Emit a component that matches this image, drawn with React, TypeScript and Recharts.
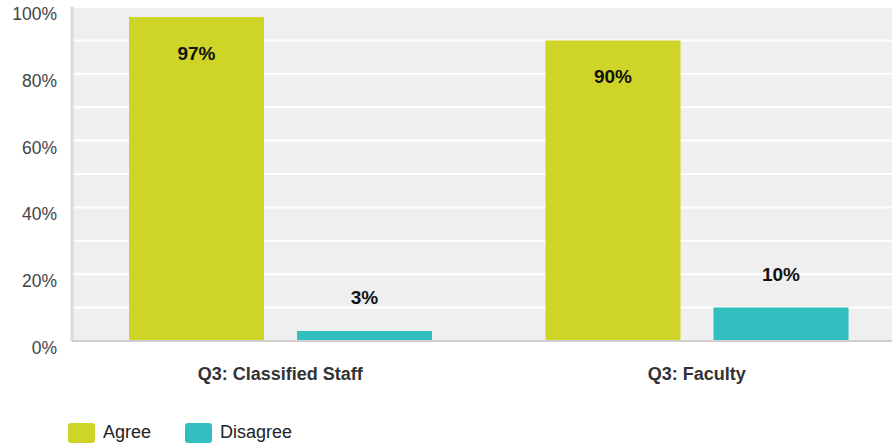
import { BarChart, Bar, XAxis, YAxis, CartesianGrid, LabelList } from 'recharts'

const categories = ['Q3: Classified Staff', 'Q3: Faculty']
const agree = [97, 90]
const disagree = [3, 10]
const yTicks = [0, 10, 20, 30, 40, 50, 60, 70, 80, 90, 100]

const SERIES = [
  { key: 'agree', name: 'Agree', color: '#cfd428' },
  { key: 'disagree', name: 'Disagree', color: '#33bec0' },
]

const data = categories.map((name, i) => ({ name, agree: agree[i], disagree: disagree[i] }))

const FONT = '"Liberation Sans", Arial, sans-serif'

function YTick(props: any) {
  const { y, payload } = props
  if (payload.value % 20 !== 0) return null
  return (
    <text x={57} y={y + 7} textAnchor="end" dominantBaseline="central" fontSize={17.5} fill="#444" fontFamily={FONT}>
      {payload.value}%
    </text>
  )
}

function XTick(props: any) {
  const { x, y, payload } = props
  return (
    <text x={x} y={y + 25} textAnchor="middle" dominantBaseline="central" fontSize={18} fontWeight="bold" fill="#333" fontFamily={FONT}>
      {payload.value}
    </text>
  )
}

// big bars get the label inside, small ones above
function makeLabel(inside: boolean) {
  return (props: any) => {
    const { x, y, width, value } = props
    const cy = inside ? y + 36 : y - 33
    return (
      <text x={x + width / 2} y={cy} textAnchor="middle" dominantBaseline="central" fontSize={19} fontWeight="bold" fill="#111" fontFamily={FONT}>
        {value}%
      </text>
    )
  }
}

export default function App() {
  return (
    <div style={{ position: 'fixed', left: 0, top: 0, width: 892, height: 446, overflow: 'hidden', background: '#fff' }}>
      <BarChart
        width={905}
        height={446}
        data={data}
        margin={{ top: 7, right: 0, bottom: 0, left: 0 }}
        barCategoryGap={57}
        barGap={33}
      >
        <CartesianGrid vertical={false} stroke="#fff" strokeWidth={2} fill="#efefef" />
        <YAxis
          width={72}
          domain={[0, 100]}
          ticks={yTicks}
          interval={0}
          tickLine={false}
          axisLine={{ stroke: '#dadada', strokeWidth: 3 }}
          tick={<YTick />}
        />
        <XAxis
          dataKey="name"
          height={105}
          tickLine={false}
          axisLine={{ stroke: '#cfcfcf', strokeWidth: 2 }}
          tick={<XTick />}
        />
        <Bar dataKey="agree" fill={SERIES[0].color} isAnimationActive={false}>
          <LabelList dataKey="agree" content={makeLabel(true)} />
        </Bar>
        <Bar dataKey="disagree" fill={SERIES[1].color} isAnimationActive={false}>
          <LabelList dataKey="disagree" content={makeLabel(false)} />
        </Bar>
      </BarChart>
      <div style={{ position: 'absolute', left: 68, top: 422, display: 'flex', alignItems: 'center', fontFamily: FONT, fontSize: 18, color: '#222' }}>
        {SERIES.map((s) => (
          <div key={s.key} style={{ display: 'flex', alignItems: 'center', marginRight: 34 }}>
            <span style={{ width: 27, height: 20, borderRadius: 3, background: s.color, marginRight: 8 }} />
            {s.name}
          </div>
        ))}
      </div>
    </div>
  )
}
